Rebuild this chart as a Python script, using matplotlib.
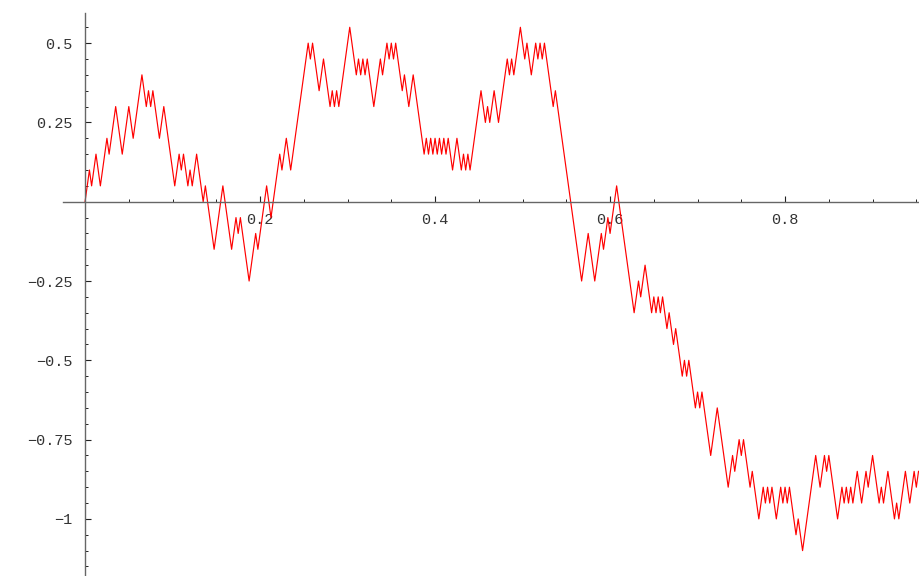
"""Random walk, Mathematica-style axes."""
import matplotlib
matplotlib.use("Agg")
import matplotlib.pyplot as plt
import numpy as np
from matplotlib.ticker import MultipleLocator

STEP_X = 0.0025
STEP_Y = 0.05

# turning points of the walk: step number and height (in steps of 0.05)
turn_steps = [0, 2, 3, 5, 7, 10, 11, 14, 17, 20, 22, 26, 28, 29, 30, 31, 34, 36,
              41, 43, 44, 45, 47, 48, 49, 51, 54, 55, 59, 63, 67, 69, 70, 71, 73,
              75, 77, 78, 79, 83, 85, 89, 90, 92, 94, 102, 103, 104, 107, 109,
              112, 113, 114, 115, 116, 121, 124, 125, 126, 127, 128, 129, 132,
              135, 136, 138, 139, 140, 141, 142, 145, 146, 148, 150, 155, 156,
              157, 158, 159, 160, 161, 162, 163, 164, 165, 166, 168, 170, 172,
              173, 174, 175, 176, 181, 183, 184, 185, 187, 189, 193, 194, 195,
              196, 199, 201, 202, 204, 206, 207, 208, 209, 210, 214, 215, 227,
              230, 233, 236, 237, 239, 240, 243, 251, 253, 254, 256, 259, 260,
              261, 262, 263, 264, 266, 267, 269, 270, 273, 274, 275, 276, 279,
              280, 281, 282, 286, 289, 294, 296, 297, 299, 300, 301, 304, 305,
              308, 310, 311, 312, 313, 314, 316, 318, 319, 320, 321, 322, 325,
              326, 328, 334, 336, 338, 339, 340, 344, 346, 347, 348, 349, 350,
              351, 353, 355, 357, 358, 360, 363, 364, 365, 367, 370, 371, 372,
              375, 377, 379, 380, 381]
turn_levels = [0, 2, 1, 3, 1, 4, 3, 6, 3, 6, 4, 8, 6, 7, 6, 7, 4, 6,
               1, 3, 2, 3, 1, 2, 1, 3, 0, 1, -3, 1, -3, -1, -2, -1, -3,
               -5, -3, -2, -3, 1, -1, 3, 2, 4, 2, 10, 9, 10, 7, 9,
               6, 7, 6, 7, 6, 11, 8, 9, 8, 9, 8, 9, 6,
               9, 8, 10, 9, 10, 9, 10, 7, 8, 6, 8, 3, 4,
               3, 4, 3, 4, 3, 4, 3, 4, 3, 4, 2, 4, 2,
               3, 2, 3, 2, 7, 5, 6, 5, 7, 5, 9, 8, 9,
               8, 11, 9, 10, 8, 10, 9, 10, 9, 10, 6, 7, -5,
               -2, -5, -2, -3, -1, -2, 1, -7, -5, -6, -4, -7, -6,
               -7, -6, -7, -6, -8, -7, -9, -8, -11, -10, -11, -10, -13,
               -12, -13, -12, -16, -13, -18, -16, -17, -15, -16, -15, -18, -17,
               -20, -18, -19, -18, -19, -18, -20, -18, -19, -18, -19, -18, -21,
               -20, -22, -16, -18, -16, -17, -16, -20, -18, -19, -18, -19, -18,
               -19, -17, -19, -17, -18, -16, -19, -18, -19, -17, -20, -19, -20,
               -17, -19, -17, -18, -17]

y_ticks = [-1, -0.75, -0.5, -0.25, 0.25, 0.5]
y_labels = ["\u22121", "\u22120.75", "\u22120.5", "\u22120.25", "0.25", "0.5"]
x_ticks = [0.2, 0.4, 0.6, 0.8]
x_labels = ["0.2", "0.4", "0.6", "0.8"]

x = np.array(turn_steps) * STEP_X
y = np.array(turn_levels) * STEP_Y

plt.rcParams['font.family'] = ['Liberation Mono', 'DejaVu Sans Mono']

fig = plt.figure(figsize=(9.2, 5.76), dpi=100)
ax = fig.add_axes([63 / 920, 0, 1 - 63 / 920, 1 - 13 / 576])
ax.plot(x, y, color="#ff0000", lw=0.85)

ax.set_xlim(-0.0252, 0.9542)
ax.set_ylim(-1.18, 0.595)

for side in ["top", "right"]:
    ax.spines[side].set_visible(False)
ax.spines["left"].set_position(("data", 0))
ax.spines["bottom"].set_position(("data", 0))
for side in ["left", "bottom"]:
    ax.spines[side].set_color("#666666")
    ax.spines[side].set_linewidth(1.0)

ax.set_xticks(x_ticks)
ax.set_xticklabels(x_labels)
ax.set_yticks(y_ticks)
ax.set_yticklabels(y_labels)
ax.xaxis.set_minor_locator(MultipleLocator(0.05))
ax.yaxis.set_minor_locator(MultipleLocator(0.05))
ax.tick_params(which="major", direction="in", length=4.2, width=0.8,
               color="#222222", labelsize=11, labelcolor="#333333")
ax.tick_params(which="minor", direction="in", length=2.5, width=0.7,
               color="#222222")
ax.tick_params(axis="y", which="major", pad=9)
ax.tick_params(axis="x", which="major", pad=8)

fig.savefig("out.png", dpi=100)
